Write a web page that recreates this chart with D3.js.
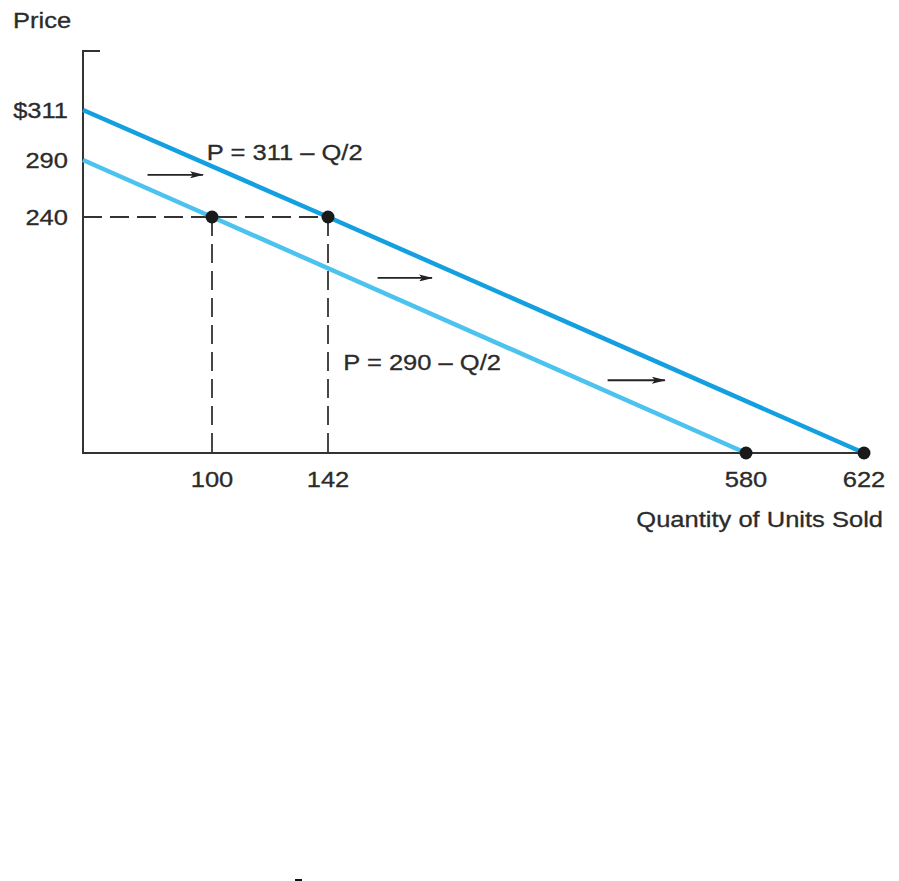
<!DOCTYPE html>
<html>
<head>
<meta charset="utf-8">
<script src="https://cdn.jsdelivr.net/npm/d3@7.9.0/dist/d3.min.js"></script>
<style>
  body { margin: 0; background: #fff; }
  svg text { font-family: "Liberation Sans", Arial, sans-serif; font-size: 22px; fill: #2b2b2b; }
</style>
</head>
<body>
<div id="chart"></div>
<script>
// demand curves (Q, P)
const demandNew = [[0, 311], [142, 240], [622, 0]];
const demandOld = [[0, 290], [100, 240], [580, 0]];
const keyPoints = [[100, 240], [142, 240], [580, 0], [622, 0]];

const priceTicks = [311, 290, 240];
const priceLabels = ['$311', '290', '240'];
const qtyTicks = [100, 142, 580, 622];

// shift arrows: [Q start, Q end, P]
const arrows = [[50, 93, 277], [194, 251, 178], [435, 495, 74]];
const curveLabels = [
  { text: 'P = 311 \u2013 Q/2', q: 96, p: 293 },
  { text: 'P = 290 \u2013 Q/2', q: 158, p: 92 },
];

const width = 899;
const height = 881;
const sx = 1.16; // the source typeface is set a bit wide

const svg = d3.select('#chart')
  .append('svg')
  .attr('width', width)
  .attr('height', height);

// schematic drawing: the axes are not to scale, so use piecewise scales
const xScale = d3.scaleLinear()
  .domain([0, 100, 142, 580, 622])
  .range([83, 212, 328, 746, 864]);

const yScale = d3.scaleLinear()
  .domain([0, 240, 290, 311])
  .range([453, 217, 160, 110]);

const axisTop = 51;

function label(x, y, text, anchor) {
  svg.append('text')
    .attr('transform', `translate(${x},${y}) scale(${sx},1)`)
    .attr('text-anchor', anchor || 'start')
    .attr('stroke', '#2b2b2b')
    .attr('stroke-width', 0.3)
    .text(text);
}

// axes
svg.append('path')
  .attr('d', `M${xScale(0) + 17},${axisTop}H${xScale(0)}V${yScale(0)}H${xScale(622)}`)
  .attr('fill', 'none')
  .attr('stroke', '#333')
  .attr('stroke-width', 2);

label(13, 28, 'Price');
priceTicks.forEach((p, i) => label(68, yScale(p) + 7.5, priceLabels[i], 'end'));
qtyTicks.forEach(q => label(xScale(q), yScale(0) + 34, String(q), 'middle'));
label(883, 527, 'Quantity of Units Sold', 'end');

// dashed guides
const guides = svg.append('g')
  .attr('stroke', '#333')
  .attr('stroke-width', 1.8)
  .attr('stroke-dasharray', '19,8');

guides.append('line')
  .attr('x1', xScale(0)).attr('x2', xScale(142))
  .attr('y1', yScale(240)).attr('y2', yScale(240));

guides.selectAll('line.v')
  .data([100, 142])
  .join('line')
  .attr('class', 'v')
  .attr('x1', d => xScale(d)).attr('x2', d => xScale(d))
  .attr('y1', yScale(240)).attr('y2', yScale(0));

// demand curves
const line = d3.line().x(d => xScale(d[0])).y(d => yScale(d[1]));

svg.append('path')
  .datum(demandOld)
  .attr('d', line)
  .attr('fill', 'none')
  .attr('stroke', '#4cc3ef')
  .attr('stroke-width', 4.5);

svg.append('path')
  .datum(demandNew)
  .attr('d', line)
  .attr('fill', 'none')
  .attr('stroke', '#14a0e0')
  .attr('stroke-width', 4.5);

// points
svg.append('g')
  .selectAll('circle')
  .data(keyPoints)
  .join('circle')
  .attr('cx', d => xScale(d[0]))
  .attr('cy', d => yScale(d[1]))
  .attr('r', 6.5)
  .attr('fill', '#1a1a1a');

// arrows
svg.append('defs').append('marker')
  .attr('id', 'head')
  .attr('viewBox', '0 0 14 7')
  .attr('refX', 13).attr('refY', 3.5)
  .attr('markerWidth', 14).attr('markerHeight', 7)
  .attr('markerUnits', 'userSpaceOnUse')
  .attr('orient', 'auto')
  .append('path')
  .attr('d', 'M0,0L14,3.5L0,7L3,3.5Z')
  .attr('fill', '#222');

svg.append('g')
  .selectAll('line')
  .data(arrows)
  .join('line')
  .attr('x1', d => xScale(d[0]))
  .attr('x2', d => xScale(d[1]))
  .attr('y1', d => yScale(d[2]))
  .attr('y2', d => yScale(d[2]))
  .attr('stroke', '#222')
  .attr('stroke-width', 1.8)
  .attr('marker-end', 'url(#head)');

curveLabels.forEach(d => label(xScale(d.q), yScale(d.p) + 7.5, d.text));

// small stray mark at the bottom of the page
svg.append('line')
  .attr('x1', 295).attr('x2', 302)
  .attr('y1', 880).attr('y2', 880)
  .attr('stroke', '#111')
  .attr('stroke-width', 2);
</script>
</body>
</html>
